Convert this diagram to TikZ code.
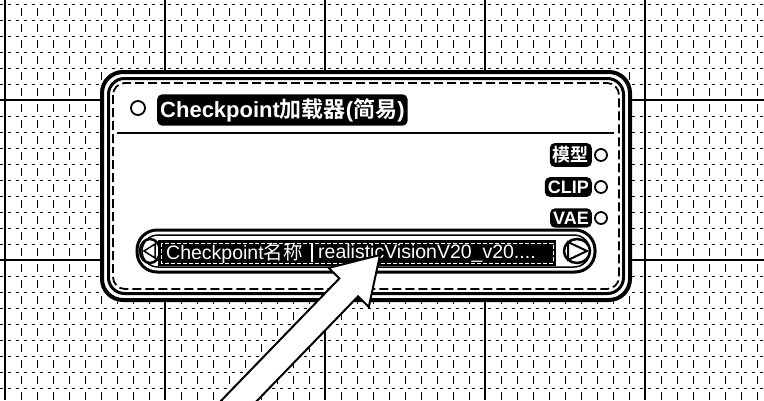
\documentclass[tikz,border=0pt]{standalone}
\usepackage{fontspec}
\setmainfont{Liberation Sans}
\newfontfamily\cjk{Noto Sans CJK SC}[BoldFont={Noto Sans CJK SC Bold}]
\tikzset{
  minorv/.style={black, line width=0.9pt, dash pattern=on 8pt off 8pt, dash phase=8pt},
  minorh/.style={black, line width=0.9pt, dash pattern=on 3pt off 5pt},
  majorline/.style={black, line width=1.8pt},
  slot/.style={circle, draw=black, fill=white, line width=1.8pt, minimum size=12pt, inner sep=0pt},
  halotext/.style={text=white, fill=black, rounded corners=5pt, inner xsep=3pt, inner ysep=3.5pt},
  outlabel/.style={halotext, anchor=east, font=\fontsize{18}{18}\bfseries},
  widgettext/.style={text=white, inner sep=0pt, anchor=west, font=\fontsize{19.5}{19.5}\selectfont},
  pointer/.style={draw=black, fill=white, line width=2pt, line join=miter}
}
\begin{document}
\begin{tikzpicture}[x=1pt, y=-1pt]
\useasboundingbox (0,0) rectangle (764,400);
\clip (0,0) rectangle (764,400);
\fill[white] (0,0) rectangle (764,400);
% grid
\foreach \i in {0,...,47} {
  \draw[minorv] (5+16*\i,0) -- (5+16*\i,400);
}
\foreach \j in {0,...,25} {
  \draw[minorh] (0,4+16*\j) -- (764,4+16*\j);
}
\foreach \i in {0,...,4} {
  \draw[majorline] (5+160*\i,0) -- (5+160*\i,400);
}
\draw[majorline] (0,100) -- (764,100);
\draw[majorline] (0,260) -- (764,260);

% node body
\fill[white, rounded corners=22pt] (100,70) rectangle (632,302);
\draw[black, line width=4pt, rounded corners=21pt] (102,72) rectangle (630,300);
\draw[black, line width=3pt, rounded corners=16pt] (108.5,78.5) rectangle (623.5,293.5);
\draw[black, line width=1.8pt, rounded corners=12pt, dash pattern=on 9pt off 4pt] (113,83) rectangle (619,289);

% title
\node[slot, minimum size=14pt] (titledot) at (138,108) {};
\node[halotext, anchor=west, font=\fontsize{22}{22}\bfseries, inner ysep=4pt] (title) at (157,110)
  {Checkpoint{\cjk 加载器}({\cjk 简易})};
\coordinate (sepL) at (117,133);
\coordinate (sepR) at (614,133);
\draw[black, line width=2pt] (sepL) -- (sepR);

% outputs
\node[slot] (o1) at (601,155) {};
\node[slot] (o2) at (601,187) {};
\node[slot] (o3) at (601,218) {};
\node[outlabel] (l1) at (592,155) {\cjk 模型};
\node[outlabel] (l2) at (592,187) {CLIP};
\node[outlabel] (l3) at (592,218) {VAE};

% widget
\draw[black, line width=3pt, rounded corners=20pt] (137,230) rectangle (595,272);
\draw[black, line width=1.5pt, rounded corners=16pt] (142,235) rectangle (590,267);
\fill[black] (158,240) rectangle (556,266);
\draw[white, line width=0.9pt, dash pattern=on 4pt off 2pt] (161,243) rectangle (553,263);
\draw[white, line width=1.2pt] (312,244) -- (312,262);
\node[widgettext] (wlabel) at (166,253.5) {Checkpoint{\cjk 名称}};
\node[widgettext] (wvalue) at (318,253.5) {realisticVisionV20\_v20....};
% left arrow button
\draw[black, line width=2.5pt] (150,251) circle[x radius=10pt, y radius=12pt];
\draw[black, fill=white, line width=1.5pt] (144,251) -- (155,244) -- (155,258) -- cycle;
% right arrow button
\draw[black, line width=2.5pt] (577,251) circle[x radius=13pt, y radius=12pt];
\draw[black, fill=white, line width=2pt, line join=miter] (568,242) -- (587,251) -- (568,260) -- cycle;

% big pointer arrow
\coordinate (tip) at (380,255);
\draw[pointer] (221.2,400.6) -- (339.4,278.4) -- (328.6,267.9) -- (tip)
  -- (368.8,306.9) -- (358.0,296.4) -- (239.8,418.6) -- cycle;
\end{tikzpicture}
\end{document}
